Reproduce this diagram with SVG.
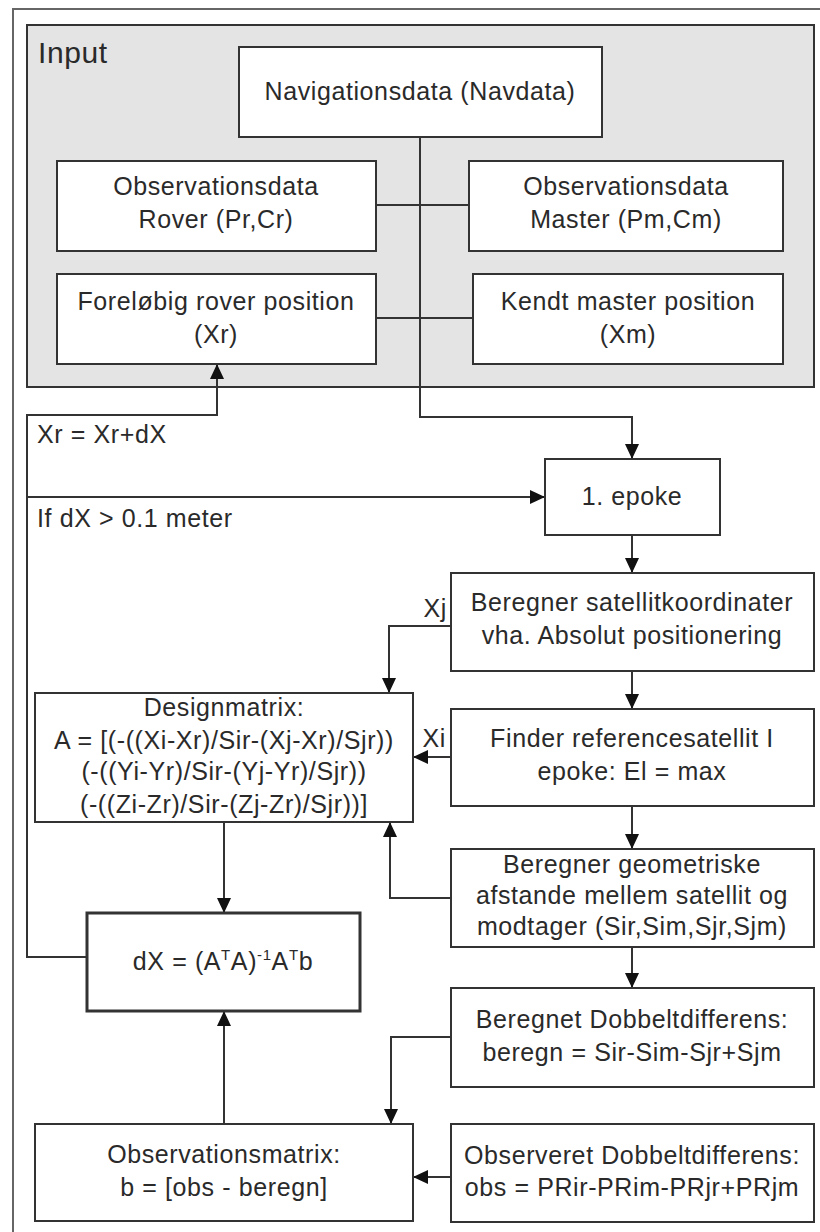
<svg xmlns="http://www.w3.org/2000/svg" width="820" height="1232" viewBox="0 0 820 1232">
  <style>
    .box { fill: #ffffff; stroke: #333333; stroke-width: 2; }
    .thick { stroke-width: 3; }
    .txt { font-family: "Liberation Sans", Arial, sans-serif; font-size: 25px; fill: #2a2a2a; letter-spacing: 0.6px; }
    .mid { text-anchor: middle; }
    .end { text-anchor: end; }
    .sup { font-size: 15px; }
    .wire { fill: none; stroke: #333333; stroke-width: 2; }
  </style>
  <defs>
    <marker id="arrow" markerUnits="userSpaceOnUse" markerWidth="16" markerHeight="14" refX="15" refY="7" orient="auto">
      <path d="M0,0 L15,7 L0,14 Z" fill="#111111"/>
    </marker>
  </defs>

  <rect width="820" height="1232" fill="#ffffff"/>

  <!-- outer frame -->
  <path d="M13,1232 V9 H820" fill="none" stroke="#666666" stroke-width="2"/>

  <!-- input group -->
  <g id="input-group">
    <rect x="27" y="25" width="787" height="362" fill="#e4e4e4" stroke="#333333" stroke-width="2"/>
    <text class="txt" x="38" y="63" style="font-size:30px">Input</text>
  </g>

  <!-- connectors -->
  <g id="connectors">
    <path class="wire" d="M420,137 V417 H632 V459" marker-end="url(#arrow)"/>
    <path class="wire" d="M376,205 H469"/>
    <path class="wire" d="M376,318 H473"/>
    <path class="wire" d="M87,957 H27 V415 H217 V364" marker-end="url(#arrow)"/>
    <path class="wire" d="M27,497 H545" marker-end="url(#arrow)"/>
    <path class="wire" d="M632,535 V573" marker-end="url(#arrow)"/>
    <path class="wire" d="M451,626 H389 V693" marker-end="url(#arrow)"/>
    <path class="wire" d="M632,671 V709" marker-end="url(#arrow)"/>
    <path class="wire" d="M451,757 H413" marker-end="url(#arrow)"/>
    <path class="wire" d="M632,806 V849" marker-end="url(#arrow)"/>
    <path class="wire" d="M451,898 H390 V822" marker-end="url(#arrow)"/>
    <path class="wire" d="M224,822 V913" marker-end="url(#arrow)"/>
    <path class="wire" d="M632,947 V988" marker-end="url(#arrow)"/>
    <path class="wire" d="M451,1037 H391 V1124" marker-end="url(#arrow)"/>
    <path class="wire" d="M224,1124 V1011" marker-end="url(#arrow)"/>
    <path class="wire" d="M451,1177 H413" marker-end="url(#arrow)"/>
    <text class="txt end" x="447" y="617">Xj</text>
    <text class="txt end" x="446" y="747">Xi</text>
    <text class="txt" x="37" y="443">Xr = Xr+dX</text>
    <text class="txt" x="37" y="527">If dX &gt; 0.1 meter</text>
  </g>

  <g id="navdata">
    <rect class="box" x="239" y="47" width="363" height="90"/>
    <text class="txt mid" x="420" y="100">Navigationsdata (Navdata)</text>
  </g>

  <g id="obs-rover">
    <rect class="box" x="57" y="161" width="319" height="90"/>
    <text class="txt mid" x="216" y="195">Observationsdata</text>
    <text class="txt mid" x="216" y="228">Rover (Pr,Cr)</text>
  </g>

  <g id="obs-master">
    <rect class="box" x="469" y="161" width="314" height="90"/>
    <text class="txt mid" x="626" y="195">Observationsdata</text>
    <text class="txt mid" x="626" y="228">Master (Pm,Cm)</text>
  </g>

  <g id="rover-pos">
    <rect class="box" x="57" y="274" width="319" height="90"/>
    <text class="txt mid" x="216" y="310">Foreløbig rover position</text>
    <text class="txt mid" x="216" y="343">(Xr)</text>
  </g>

  <g id="master-pos">
    <rect class="box" x="473" y="274" width="310" height="90"/>
    <text class="txt mid" x="628" y="310">Kendt master position</text>
    <text class="txt mid" x="628" y="343">(Xm)</text>
  </g>

  <g id="epoke">
    <rect class="box" x="545" y="459" width="175" height="76"/>
    <text class="txt mid" x="632" y="505">1. epoke</text>
  </g>

  <g id="sat-coords">
    <rect class="box" x="451" y="573" width="363" height="98"/>
    <text class="txt mid" x="632" y="611">Beregner satellitkoordinater</text>
    <text class="txt mid" x="632" y="644">vha. Absolut positionering</text>
  </g>

  <g id="ref-sat">
    <rect class="box" x="451" y="709" width="363" height="97"/>
    <text class="txt mid" x="632" y="747">Finder referencesatellit I</text>
    <text class="txt mid" x="632" y="780">epoke: El = max</text>
  </g>

  <g id="distances">
    <rect class="box" x="451" y="849" width="363" height="98"/>
    <text class="txt mid" x="632" y="873">Beregner geometriske</text>
    <text class="txt mid" x="632" y="904">afstande mellem satellit og</text>
    <text class="txt mid" x="632" y="935">modtager (Sir,Sim,Sjr,Sjm)</text>
  </g>

  <g id="designmatrix">
    <rect class="box" x="35" y="693" width="378" height="129"/>
    <text class="txt mid" x="224" y="716">Designmatrix:</text>
    <text class="txt mid" x="224" y="749">A = [(-((Xi-Xr)/Sir-(Xj-Xr)/Sjr))</text>
    <text class="txt mid" x="224" y="780">(-((Yi-Yr)/Sir-(Yj-Yr)/Sjr))</text>
    <text class="txt mid" x="224" y="813">(-((Zi-Zr)/Sir-(Zj-Zr)/Sjr))]</text>
  </g>

  <g id="solution">
    <rect class="box thick" x="87" y="913" width="273" height="98"/>
    <text class="txt mid" x="223" y="970">dX = (A<tspan class="sup" dy="-10">T</tspan><tspan dy="10">A)</tspan><tspan class="sup" dy="-10">-1</tspan><tspan dy="10">A</tspan><tspan class="sup" dy="-10">T</tspan><tspan dy="10">b</tspan></text>
  </g>

  <g id="calc-dd">
    <rect class="box" x="451" y="988" width="363" height="99"/>
    <text class="txt mid" x="632" y="1028">Beregnet Dobbeltdifferens:</text>
    <text class="txt mid" x="632" y="1061">beregn = Sir-Sim-Sjr+Sjm</text>
  </g>

  <g id="obs-matrix">
    <rect class="box" x="35" y="1124" width="378" height="97"/>
    <text class="txt mid" x="224" y="1163">Observationsmatrix:</text>
    <text class="txt mid" x="224" y="1196">b = [obs - beregn]</text>
  </g>

  <g id="obs-dd">
    <rect class="box" x="451" y="1124" width="363" height="98"/>
    <text class="txt mid" x="632" y="1164">Observeret Dobbeltdifferens:</text>
    <text class="txt mid" x="632" y="1196">obs = PRir-PRim-PRjr+PRjm</text>
  </g>
</svg>
